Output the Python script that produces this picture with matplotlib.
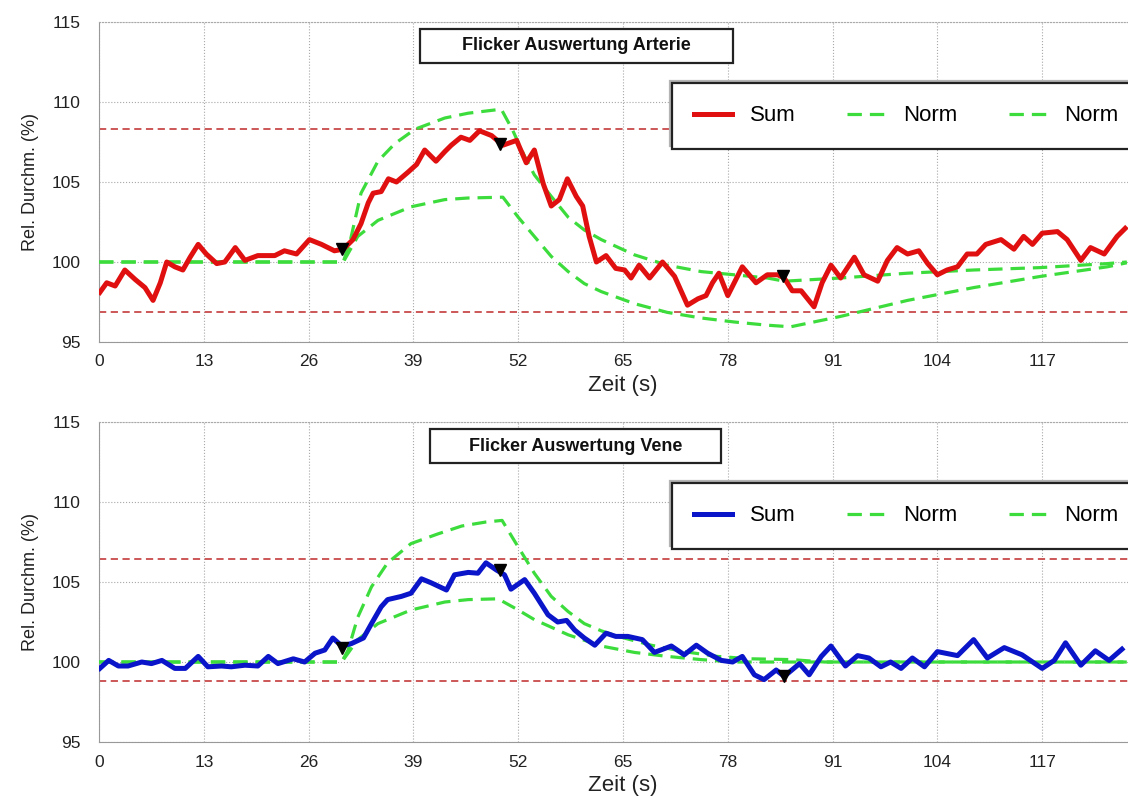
import matplotlib
matplotlib.use("Agg")
import matplotlib.pyplot as plt
from matplotlib.patches import Rectangle

plt.rcParams["font.family"] = ["Liberation Sans", "DejaVu Sans"]

# Arterie: Sum curve
t_art = [0.1, 0.95, 2.0, 3.2, 4.5, 5.7, 6.7, 7.6, 8.4, 9.4, 10.4, 11.3, 12.3, 13.3, 14.6, 15.6, 16.9, 18.1,
         19.7, 21.8, 23.0, 24.5, 26.1, 27.6, 29.2, 30.3, 31.5, 32.5, 33.4, 34.0, 35.0, 35.9, 36.9, 38.3, 39.4,
         40.4, 41.8, 42.9, 43.7, 44.9, 46.0, 47.2, 48.7, 50.1, 51.8, 53.0, 54.0, 55.1, 56.1, 57.1, 58.1, 59.2,
         60.0, 60.8, 61.7, 62.9, 64.1, 65.2, 66.0, 67.0, 68.3, 69.9, 71.4, 72.2, 73.0, 74.3, 75.3, 76.1, 76.9,
         78.0, 79.0, 79.8, 81.5, 82.9, 84.2, 85.0, 86.0, 87.1, 87.9, 88.7, 89.7, 90.8, 92.0, 93.7, 94.9, 96.6,
         97.8, 99.0, 100.3, 101.7, 102.8, 104.0, 105.2, 106.5, 107.7, 108.9, 110.0, 111.9, 113.5, 114.7, 115.8,
         117.0, 118.9, 120.1, 121.8, 123.0, 124.7, 126.3, 127.3]
sum_art = [98.1, 98.7, 98.5, 99.5, 98.9, 98.4, 97.6, 98.7, 100.0, 99.7, 99.5, 100.3, 101.1, 100.5, 99.9, 100.0,
           100.9, 100.1, 100.4, 100.4, 100.7, 100.5, 101.4, 101.1, 100.7, 100.8, 101.4, 102.4, 103.7, 104.3,
           104.4, 105.2, 105.0, 105.6, 106.1, 107.0, 106.3, 106.9, 107.3, 107.8, 107.6, 108.2, 107.9, 107.3,
           107.6, 106.2, 107.0, 104.9, 103.5, 103.9, 105.2, 104.1, 103.5, 101.6, 100.0, 100.4, 99.6, 99.5, 99.0,
           99.8, 99.0, 100.0, 99.1, 98.2, 97.3, 97.7, 97.9, 98.7, 99.3, 97.9, 98.9, 99.7, 98.7, 99.2, 99.2, 99.0,
           98.2, 98.2, 97.7, 97.2, 98.7, 99.8, 99.0, 100.3, 99.2, 98.8, 100.1, 100.9, 100.5, 100.7, 99.9, 99.2,
           99.5, 99.7, 100.5, 100.5, 101.1, 101.4, 100.8, 101.6, 101.1, 101.8, 101.9, 101.4, 100.1, 100.9, 100.5,
           101.6, 102.1]

# Arterie: norm band
t_art_hi = [0, 30.3, 31.2, 32.5, 34.6, 36.7, 39.2, 42.9, 45.8, 49.9, 51.3, 52.8, 54.0, 56.1, 58.2, 60.2, 62.3,
            66.4, 70.5, 74.7, 78.8, 82.9, 85.0, 92.0, 100.3, 108.5, 116.8, 125.1, 127.5]
norm_art_hi = [100, 100, 101.4, 104.3, 106.3, 107.4, 108.3, 109.0, 109.3, 109.55, 108.25, 106.6, 105.45, 104.1,
               102.8, 102.0, 101.4, 100.45, 99.8, 99.4, 99.2, 99.0, 98.8, 99.0, 99.3, 99.5, 99.65, 99.9, 100.0]
t_art_lo = [0, 30.3, 32.1, 34.6, 38.7, 42.9, 45.8, 50.1, 52.0, 54.0, 56.1, 58.2, 60.2, 62.3, 66.4, 70.5, 74.7,
            78.8, 82.9, 85.8, 92.0, 100.3, 108.5, 116.8, 125.1, 127.5]
norm_art_lo = [100, 100, 101.6, 102.6, 103.45, 103.9, 104.0, 104.05, 102.8, 101.6, 100.35, 99.4, 98.65, 98.15,
               97.4, 96.85, 96.5, 96.25, 96.05, 95.95, 96.6, 97.6, 98.4, 99.1, 99.7, 99.95]
lim_art = [108.3, 96.9]
mark_t_art = [30.1, 49.7, 84.8]
mark_v_art = [100.8, 107.4, 99.1]

# Vene: Sum curve
t_ven = [0.1, 1.2, 2.4, 3.6, 5.3, 6.5, 7.8, 9.4, 10.7, 12.3, 13.5, 15.2, 16.4, 18.1, 19.7, 21.0, 22.2, 24.1,
         25.5, 26.8, 28.0, 29.0, 30.1, 31.3, 32.8, 33.8, 35.0, 35.8, 37.5, 38.7, 40.0, 41.2, 43.1, 44.1, 45.8,
         47.0, 48.0, 49.3, 50.3, 51.1, 52.8, 54.0, 55.7, 56.9, 58.0, 59.0, 60.2, 61.5, 62.9, 64.1, 65.6, 67.4,
         68.9, 71.0, 72.6, 74.1, 75.5, 77.2, 78.6, 79.8, 81.3, 82.5, 84.0, 85.0, 86.9, 88.1, 89.6, 90.8, 92.6,
         94.1, 95.5, 97.0, 98.2, 99.5, 100.9, 102.4, 104.0, 106.5, 108.5, 110.2, 112.3, 114.5, 117.0, 118.5,
         119.9, 121.8, 123.6, 125.3, 126.9]
sum_ven = [99.6, 100.1, 99.75, 99.75, 100.0, 99.9, 100.1, 99.6, 99.6, 100.35, 99.7, 99.75, 99.7, 99.8, 99.75,
           100.35, 99.9, 100.2, 100.0, 100.55, 100.75, 101.5, 101.0, 101.15, 101.5, 102.4, 103.45, 103.9, 104.1,
           104.3, 105.2, 104.95, 104.5, 105.45, 105.6, 105.55, 106.2, 105.75, 105.45, 104.55, 105.15, 104.3,
           102.95, 102.5, 102.6, 102.0, 101.5, 101.05, 101.8, 101.6, 101.6, 101.4, 100.6, 101.0, 100.45, 101.05,
           100.55, 100.1, 100.0, 100.35, 99.2, 98.9, 99.5, 99.1, 99.9, 99.2, 100.35, 101.0, 99.75, 100.4, 100.25,
           99.7, 100.0, 99.6, 100.25, 99.7, 100.65, 100.4, 101.4, 100.25, 100.9, 100.45, 99.6, 100.1, 101.2, 99.8,
           100.7, 100.1, 100.8]

# Vene: norm band
t_ven_hi = [0, 30.1, 30.9, 32.1, 33.8, 35.8, 38.7, 42.0, 45.0, 48.0, 50.0, 51.5, 54.0, 56.1, 58.2, 60.2, 62.3,
            64.4, 68.5, 72.6, 76.7, 80.9, 85.9, 90.0, 127.5]
norm_ven_hi = [100, 100, 100.75, 102.8, 104.7, 106.2, 107.4, 108.0, 108.5, 108.75, 108.85, 107.6, 105.55, 104.1,
               103.15, 102.4, 101.95, 101.6, 101.05, 100.65, 100.35, 100.2, 100.15, 100.0, 100.0]
t_ven_lo = [0, 30.1, 32.1, 34.6, 38.7, 42.9, 45.8, 49.5, 52.0, 54.0, 58.2, 62.3, 66.4, 70.5, 74.7, 78.8, 127.5]
norm_ven_lo = [100, 100, 101.4, 102.4, 103.25, 103.75, 103.9, 103.95, 103.25, 102.65, 101.7, 101.0, 100.6,
               100.35, 100.15, 100.0, 100.0]
lim_ven = [106.45, 98.8]
mark_t_ven = [30.2, 49.7, 85.0]
mark_v_ven = [100.9, 105.75, 99.1]

xticks = [0, 13, 26, 39, 52, 65, 78, 91, 104, 117]
yticks = [95, 100, 105, 110, 115]

fig = plt.figure(figsize=(11.28, 7.97), dpi=100)
ax1 = fig.add_axes([0.0878, 0.5709, 0.929, 0.4015])
ax2 = fig.add_axes([0.0878, 0.069, 0.929, 0.4015])

panels = [
    (ax1, t_art, sum_art, "#e01010", t_art_hi, norm_art_hi, t_art_lo, norm_art_lo, lim_art,
     mark_t_art, mark_v_art, "Flicker Auswertung Arterie", (0.306, 0.605)),
    (ax2, t_ven, sum_ven, "#0a14c8", t_ven_hi, norm_ven_hi, t_ven_lo, norm_ven_lo, lim_ven,
     mark_t_ven, mark_v_ven, "Flicker Auswertung Vene", (0.316, 0.594)),
]

for ax, t, s, col, th, nh, tl, nl, lim, mt, mv, title, (bx0, bx1) in panels:
    for y in lim:
        ax.axhline(y, color="#c84a4a", lw=1.3, ls=(0, (4, 2.5)), zorder=2)
    ax.plot(t, s, color=col, lw=3.6, solid_joinstyle="round", label="Sum", zorder=4)
    ax.plot(th, nh, color="#3ddc3d", lw=2.3, ls=(0, (4.5, 2.5)), label="Norm", zorder=3)
    ax.plot(tl, nl, color="#3ddc3d", lw=2.3, ls=(0, (4.5, 2.5)), label="Norm", zorder=3)
    ax.plot(mt, mv, "v", color="black", ms=9, zorder=5)

    ax.set_xlim(0, 130)
    ax.set_ylim(95, 115)
    ax.set_xticks(xticks)
    ax.set_yticks(yticks)
    ax.grid(True, color="#a8a8a8", ls=":", lw=0.8)
    ax.tick_params(length=0, labelsize=12.5, colors="#222222")
    ax.tick_params(axis="x", pad=9)
    ax.tick_params(axis="y", pad=13)
    for side in ["left", "bottom"]:
        ax.spines[side].set_color("#999999")
    ax.spines["top"].set_color("#aaaaaa")
    ax.spines["top"].set_linestyle(":")
    ax.spines["right"].set_visible(False)
    ax.set_xlabel("Zeit (s)", fontsize=16, color="#222222", labelpad=4)
    ax.set_ylabel("Rel. Durchm. (%)", fontsize=13, color="#222222", labelpad=9)

    # title box
    ax.add_patch(Rectangle((bx0, 0.872), bx1 - bx0, 0.106, transform=ax.transAxes, fc="white",
                           ec="#222222", lw=1.6, zorder=6))
    ax.text((bx0 + bx1) / 2, 0.925, title, transform=ax.transAxes, ha="center", va="center",
            fontsize=13, fontweight="bold", color="#111111", zorder=7)

    leg = ax.legend(loc="upper left", bbox_to_anchor=(0.547, 0.809, 0.447, 0), mode="expand",
                    borderaxespad=0, ncol=3, fontsize=16, handlelength=1.7, handletextpad=0.8,
                    borderpad=1.0, fancybox=False, framealpha=1, edgecolor="#222222",
                    shadow={"ox": -1.5, "oy": 1.5, "color": "#b4b4b4", "alpha": 1})
    leg.get_frame().set_linewidth(1.6)
    leg.set_zorder(8)

fig.savefig("out.png", dpi=100)
